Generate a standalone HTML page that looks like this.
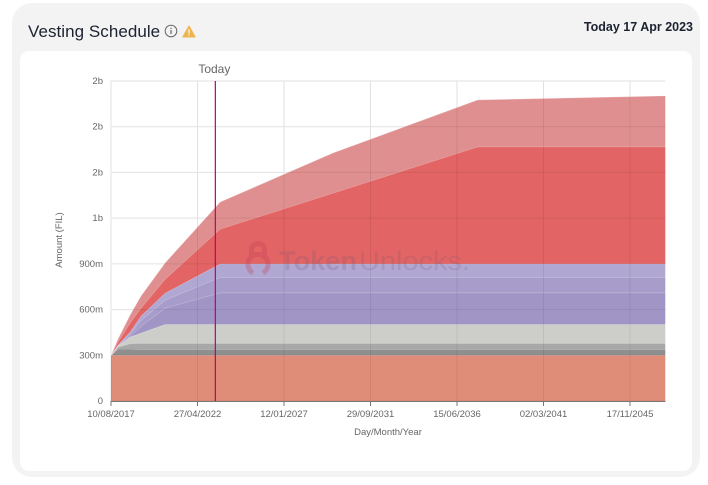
<!DOCTYPE html>
<html lang="en">
<head>
<meta charset="utf-8">
<title>Vesting Schedule</title>
<style>
html,body{margin:0;padding:0;background:#fff;}
body{width:708px;height:485px;position:relative;overflow:hidden;font-family:"Liberation Sans",sans-serif;}
#card{position:absolute;left:12px;top:3px;width:688px;height:474px;background:#f3f3f4;border-radius:20px;}
#panel{position:absolute;left:20px;top:51px;width:672px;height:420px;background:#fff;border-radius:9px;}
#title{position:absolute;left:28px;top:22px;font-size:17px;line-height:20px;color:#1c2230;letter-spacing:.05px;white-space:nowrap;}
#date{position:absolute;right:15px;top:19px;font-size:12.5px;line-height:16px;font-weight:bold;color:#1c2230;white-space:nowrap;}
#info{position:absolute;left:164px;top:24px;}
#warn{position:absolute;left:182px;top:25px;}
#chart{position:absolute;left:0;top:0;}
</style>
</head>
<body>
<div id="card"></div>
<div id="panel"></div>
<div id="title">Vesting Schedule</div>
<svg id="info" width="14" height="14" viewBox="0 0 14 14">
<circle cx="7" cy="7" r="5.8" fill="none" stroke="#666" stroke-width="1"/>
<rect x="6.4" y="6" width="1.2" height="4" fill="#666"/>
<rect x="6.4" y="3.8" width="1.2" height="1.2" fill="#666"/>
</svg>
<svg id="warn" width="14" height="13" viewBox="0 0 14 13">
<path d="M7 1 L13.2 12 L0.8 12 Z" fill="#eeb44f" stroke="#eeb44f" stroke-width="1" stroke-linejoin="round"/>
<rect x="6.4" y="4.4" width="1.2" height="4" fill="#fff"/>
<rect x="6.4" y="9.2" width="1.2" height="1.2" fill="#fff"/>
</svg>
<div id="date">Today 17 Apr 2023</div>
<svg id="chart" width="708" height="485"></svg>
<script>
const categories = ["2017-08-10","2017-12-27","2018-08-23","2019-03-30","2020-07-21","2023-07-21","2029-09-15","2037-08-01","2047-10-20"];
const tickDates = ["2017-08-10","2022-04-27","2027-01-12","2031-09-29","2036-06-15","2041-03-02","2045-11-17"];
const tickLabels = ["10/08/2017","27/04/2022","12/01/2027","29/09/2031","15/06/2036","02/03/2041","17/11/2045"];
const yTicks = [0,300,600,900,1200,1500,1800,2100];
const yLabels = ["0","300m","600m","900m","1b","2b","2b","2b"];
const todayDate = "2023-04-17";
const seriesNames = ["salmon","dark-grey","mid-grey","light-grey","purple-a","purple-b","purple-c","red","rose"];
const seriesColors = ["#df8c78","#8f8f8f","#a8a8a8","#cdcdca","#a195c6","#a79cca","#b0a7d2","#e26464","#df8f8f"];
const salmon = [300,300,300,300,300,300,300,300,300];
const darkGrey = [0,41,41,40,40,40,40,40,40];
const midGrey = [0,13,36,38,38,38,38,38,38];
const lightGrey = [0,7,43,68,125,125,125,125,125];
const purpleA = [0,3,6,46,107,207,207,207,207];
const purpleB = [0,2,14,36,53,102,102,102,102];
const purpleC = [0,1,13,30,45,88,88,88,88];
const red = [0,20,59,52,92,229,465,768,768];
const rose = [0,20,52,79,106,177,263,308,334];
const stackSeries = [salmon,darkGrey,midGrey,lightGrey,purpleA,purpleB,purpleC,red,rose];

const svg = document.getElementById('chart');
const NS = 'http://www.w3.org/2000/svg';
const plot = {left:111,right:665.5,top:81,bottom:401};
const day0 = Date.parse(tickDates[0]);
const dayScale = (630 - 111) / ((Date.parse(tickDates[6]) - day0) / 864e5);
function xScale(d){ return plot.left + ((Date.parse(d) - day0) / 864e5) * dayScale; }
function yScale(v){ return plot.bottom - v * (plot.bottom - plot.top) / yTicks[yTicks.length - 1]; }
function make(tag, attrs, text, parent){
  const el = document.createElementNS(NS, tag);
  for (const k in attrs) el.setAttribute(k, attrs[k]);
  if (text !== undefined && text !== null) el.textContent = text;
  (parent || svg).appendChild(el);
  return el;
}
const labelFont = '"Liberation Sans",sans-serif';

yTicks.forEach(function(v, i){
  const line = make('line', {x1:plot.left, x2:plot.right, y1:yScale(v), y2:yScale(v), stroke: v === 0 ? 'none' : '#e2e2e2', 'stroke-width':1});
  
  
  const t = make('text', {x:103, y:yScale(v) + 3, 'text-anchor':'end', 'font-size':9.5, fill:'#666', 'font-family':labelFont}, yLabels[i]);
  
  
});
tickDates.forEach(function(d){
  const line = make('line', {x1:xScale(d), x2:xScale(d), y1:plot.top, y2:plot.bottom, stroke:'#e2e2e2', 'stroke-width':1});
  
  
});

const cumulative = categories.map(function(){ return 0; });
stackSeries.forEach(function(values, s){
  const lower = cumulative.slice();
  values.forEach(function(v, i){ cumulative[i] += v; });
  const topPts = categories.map(function(c, i){ return xScale(c).toFixed(1) + ',' + yScale(cumulative[i]).toFixed(1); });
  const pts = topPts.slice();
  for (let i = categories.length - 1; i >= 0; i--) {
    pts.push(xScale(categories[i]).toFixed(1) + ',' + yScale(lower[i]).toFixed(1));
  }
  const area = make('polygon', {points:pts.join(' '), fill:seriesColors[s]});
  
  
  const edge = make('polyline', {points:topPts.join(' '), fill:'none', stroke:'#fff', 'stroke-opacity':0.25, 'stroke-width':1});
  
  
});

/* grid lines showing through the stacked areas */
const defs = make('defs', {});
const clip = make('clipPath', {id:'stack-clip'}, null, defs);
const clipPts = categories.map(function(c, i){ return xScale(c).toFixed(1) + ',' + yScale(cumulative[i]).toFixed(1); });
clipPts.push(xScale(categories[categories.length - 1]).toFixed(1) + ',' + plot.bottom);
clipPts.push(xScale(categories[0]).toFixed(1) + ',' + plot.bottom);
make('polygon', {points:clipPts.join(' ')}, null, clip);
const overlay = make('g', {'clip-path':'url(#stack-clip)', stroke:'#000', 'stroke-opacity':0.07, 'stroke-width':1});


yTicks.forEach(function(v){
  make('line', {x1:plot.left, x2:plot.right, y1:yScale(v), y2:yScale(v)}, null, overlay);
});
tickDates.forEach(function(d){
  make('line', {x1:xScale(d), x2:xScale(d), y1:plot.top, y2:plot.bottom}, null, overlay);
});

const axis = make('line', {x1:plot.left, x2:plot.right, y1:plot.bottom + .5, y2:plot.bottom + .5, stroke:'#777', 'stroke-width':1});


tickDates.forEach(function(d, i){
  const tick = make('line', {x1:xScale(d), x2:xScale(d), y1:plot.bottom, y2:plot.bottom + 5, stroke:'#777', 'stroke-width':1});
  
  
  const t = make('text', {x:xScale(d), y:417, 'text-anchor':'middle', 'font-size':9.5, fill:'#666', 'font-family':labelFont}, tickLabels[i]);
  
  
});

const todayLine = make('line', {x1:xScale(todayDate), x2:xScale(todayDate), y1:plot.top, y2:plot.bottom, stroke:'#c0006a', 'stroke-width':1.2});


const todayLabel = make('text', {x:xScale(todayDate) - 1, y:73, 'text-anchor':'middle', 'font-size':12, fill:'#666', 'font-family':labelFont}, 'Today');



const xTitle = make('text', {x:388, y:435, 'text-anchor':'middle', 'font-size':9.5, fill:'#666', 'font-family':labelFont}, 'Day/Month/Year');


const yTitle = make('text', {x:0, y:0, transform:'translate(62,240) rotate(-90)', 'text-anchor':'middle', 'font-size':9.5, fill:'#666', 'font-family':labelFont}, 'Amount (FIL)');



const logo = make('path', {d:'M251.5 256 v-6 a6.5 6.5 0 0 1 13 0 v6 M253 273 a10 10 0 1 1 10 0', fill:'none', stroke:'#c2405a', 'stroke-width':5, opacity:0.3});


const markA = make('text', {x:279, y:270, 'font-size':27, 'font-weight':'bold', fill:'#7a5a78', opacity:0.22, 'font-family':labelFont, textLength:78, lengthAdjust:'spacingAndGlyphs'}, 'Token');


const markB = make('text', {x:359, y:270, 'font-size':27, fill:'#7a5a78', opacity:0.2, 'font-family':labelFont, textLength:111, lengthAdjust:'spacingAndGlyphs'}, 'Unlocks.');


</script>
</body>
</html>
